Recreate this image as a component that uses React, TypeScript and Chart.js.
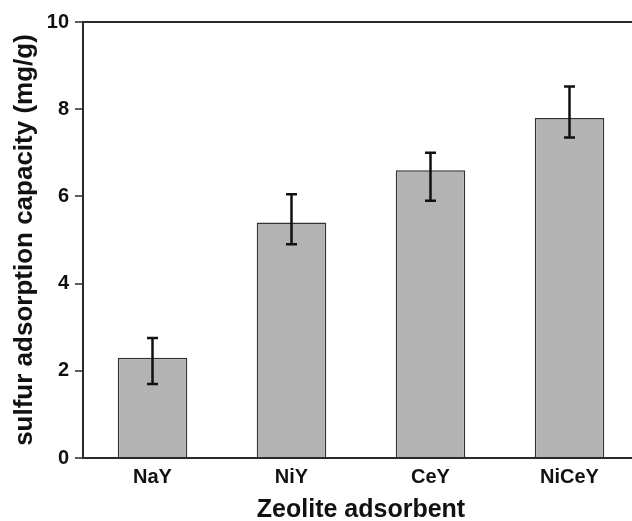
import React, { useEffect, useRef } from 'react';
import { Chart, registerables } from 'chart.js';

Chart.register(...registerables);

const categories = ['NaY', 'NiY', 'CeY', 'NiCeY'];
const capacity = [2.3, 5.4, 6.6, 7.8];
const errorHigh = [2.75, 6.05, 7.0, 8.52];
const errorLow = [1.7, 4.9, 5.9, 7.35];
const yMin = 0;
const yMax = 10;
const yStep = 2;
const xTitle = 'Zeolite adsorbent';
const yTitle = 'sulfur adsorption capacity (mg/g)';

const FONT = '"Liberation Sans", Arial, Helvetica, sans-serif';
const AXIS = '#2a2a2a';

const errorBarPlugin = {
  id: 'errorBars',
  afterDatasetsDraw(chart: any) {
    const meta = chart.getDatasetMeta(0);
    const yScale = chart.scales.y;
    const ctx = chart.ctx;
    ctx.save();
    ctx.strokeStyle = '#111';
    ctx.lineWidth = 2.5;
    ctx.lineCap = 'butt';
    meta.data.forEach((bar: any, i: number) => {
      const x = bar.x;
      const yh = yScale.getPixelForValue(errorHigh[i]);
      const yl = yScale.getPixelForValue(errorLow[i]);
      ctx.beginPath();
      ctx.moveTo(x, yh);
      ctx.lineTo(x, yl);
      ctx.moveTo(x - 5.5, yh);
      ctx.lineTo(x + 5.5, yh);
      ctx.moveTo(x - 5.5, yl);
      ctx.lineTo(x + 5.5, yl);
      ctx.stroke();
    });
    ctx.restore();
  },
};

export default function App() {
  const canvasRef = useRef<HTMLCanvasElement | null>(null);

  useEffect(() => {
    if (!canvasRef.current) return;
    const chart = new Chart(canvasRef.current, {
      type: 'bar',
      data: {
        labels: categories,
        datasets: [
          {
            data: capacity,
            backgroundColor: '#b3b3b3',
            borderColor: '#333333',
            borderWidth: 1.5,
            categoryPercentage: 0.5,
            barPercentage: 1,
          },
        ],
      },
      options: {
        responsive: false,
        animation: false,
        layout: { padding: { top: 22, right: 21, bottom: 0, left: 0 } },
        plugins: {
          legend: { display: false },
          tooltip: { enabled: false },
        },
        scales: {
          x: {
            grid: { display: false, drawTicks: false },
            border: { display: true, color: AXIS, width: 2 },
            ticks: {
              color: '#111',
              padding: 7,
              font: { family: FONT, size: 20, weight: 'bold' },
            },
            title: {
              display: true,
              text: xTitle,
              color: '#111',
              padding: { top: 0, bottom: 0 },
              font: { family: FONT, size: 25, weight: 'bold', lineHeight: 0.9 },
            },
            afterFit(scale: any) {
              scale.height = 63;
            },
          },
          y: {
            min: yMin,
            max: yMax,
            grid: {
              drawOnChartArea: true,
              color: (c: any) => (c.tick && c.tick.value === yMax ? AXIS : 'rgba(0,0,0,0)'),
              lineWidth: 2,
              tickColor: AXIS,
              tickLength: 8,
              tickWidth: 1.5,
            },
            border: { display: true, color: AXIS, width: 2 },
            ticks: {
              stepSize: yStep,
              color: '#111',
              padding: 6,
              font: { family: FONT, size: 20, weight: 'bold' },
            },
            title: {
              display: true,
              text: yTitle,
              color: '#111',
              padding: { top: 9, bottom: 0 },
              font: { family: FONT, size: 26, weight: 'bold', lineHeight: 1.2 },
            },
            afterFit(scale: any) {
              scale.width = 83;
            },
          },
        },
      },
      plugins: [errorBarPlugin],
    } as any);
    return () => chart.destroy();
  }, []);

  return (
    <div
      style={{
        position: 'absolute',
        left: 0,
        top: 0,
        width: 632,
        height: 521,
        overflow: 'hidden',
        background: '#fff',
      }}
    >
      <canvas ref={canvasRef} width={660} height={521} style={{ display: 'block' }} />
    </div>
  );
}
